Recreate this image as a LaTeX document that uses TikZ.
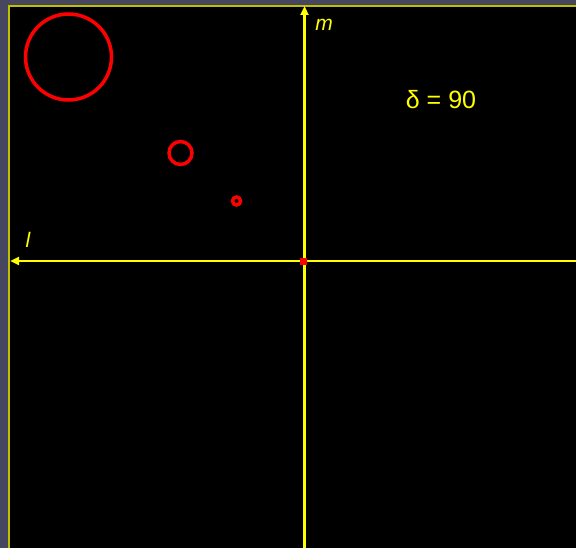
\documentclass[tikz,border=0pt]{standalone}
\usepackage{fontspec}
\setmainfont{Liberation Sans}
\usetikzlibrary{arrows.meta}
\definecolor{frameslate}{HTML}{46465E}
\definecolor{frameolive}{HTML}{C0C000}
\definecolor{axisyellow}{HTML}{FFFF00}
\definecolor{ringred}{HTML}{FF0000}

\begin{document}
\begin{tikzpicture}[
  x=1pt, y=-1pt,
  axis/.style={
    draw=axisyellow, line width=2.5pt,
    -{Triangle[length=9pt,width=8pt]}
  },
  ring/.style={
    circle, draw=ringred, line width=3.5pt, inner sep=0pt
  },
  axislabel/.style={
    text=axisyellow, inner sep=0pt, font=\fontsize{21}{21}\selectfont\itshape
  },
  anglelabel/.style={
    text=axisyellow, inner sep=0pt, font=\fontsize{25}{25}\selectfont
  },
  origin/.style={
    rectangle, fill=ringred, minimum size=7pt, inner sep=0pt
  }
]

% Frame
\fill[frameslate] (0,0) rectangle (576,548);
\useasboundingbox (0,0) rectangle (576,548);
\fill[black] (8,5) rectangle (576,548);
\draw[frameolive, line width=2pt] (9,548) -- (9,6) -- (576,6);

% Axes
\coordinate (mfoot) at (304.5,548);
\coordinate (mtip) at (304.5,6);
\coordinate (lfoot) at (576,261);
\coordinate (ltip) at (10,261);
\draw[axis] (mfoot) -- (mtip);
\draw[axis] (lfoot) -- (ltip);

\node[origin] (orig) at (303,262) {};
\node[axislabel] (mlab) at (324,25) {m};
\node[axislabel] (llab) at (28,240) {l};

% Rings
\node[ring, minimum size=86pt] (big) at (68.5,57) {};
\node[ring, minimum size=23pt] (mid) at (180.5,153) {};
\node[ring, minimum size=8pt] (small) at (236.5,201) {};

% Angle
\node[anglelabel, anchor=base] (delta) at (441,108.5) {δ = 90};

\end{tikzpicture}
\end{document}
